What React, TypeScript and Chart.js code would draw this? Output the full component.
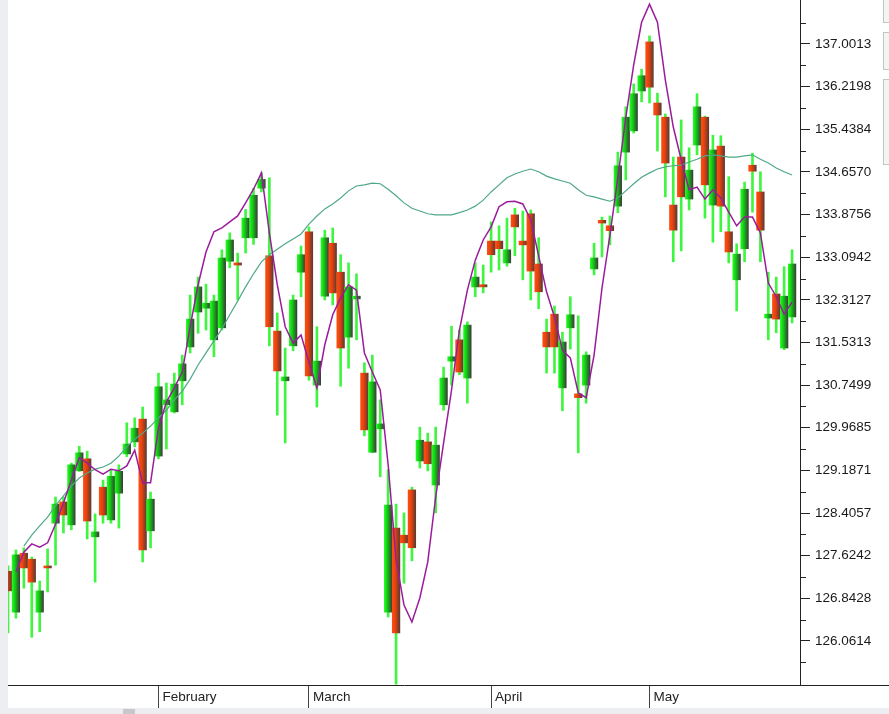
import React, { useEffect, useRef } from 'react';
import { Chart, registerables } from 'chart.js';

Chart.register(...registerables);

// ---- data ----
const openV = [127.34,126.59,127.67,127.56,126.59,127.42,128.22,128.61,128.19,129.18,129.40,127.97,128.88,128.28,128.77,129.49,129.71,130.13,128.08,129.45,130.39,130.26,130.83,131.45,132.09,132.16,131.58,131.80,133.02,132.99,133.45,133.45,134.36,133.12,131.74,130.83,131.47,132.82,133.56,130.75,132.38,133.35,132.82,131.63,132.33,130.97,129.52,129.95,126.59,128.13,128.00,128.83,129.36,129.71,128.92,130.39,131.19,131.58,130.88,132.55,132.59,133.39,133.39,132.99,133.87,133.39,133.89,132.97,131.72,132.05,130.70,131.80,130.59,130.75,132.88,133.77,133.67,134.03,135.02,135.41,136.14,137.04,135.92,135.66,134.05,134.93,134.16,135.15,135.66,134.05,135.13,133.56,132.68,133.25,134.78,134.29,131.98,132.42,131.43,132.00];
const highV = [127.44,127.73,127.77,127.60,127.16,127.75,128.70,128.70,129.32,129.63,129.54,128.39,129.01,129.21,129.29,130.06,130.15,130.35,128.79,130.97,130.79,130.97,131.30,132.40,132.73,132.60,132.40,133.23,133.54,133.17,133.97,134.36,134.64,134.55,132.07,131.43,132.40,133.30,133.65,131.82,133.59,133.63,133.14,132.99,132.79,131.16,131.30,130.48,129.20,128.57,128.41,128.88,129.98,129.87,129.98,131.08,131.83,131.76,131.91,132.99,132.95,133.74,133.67,133.81,133.99,133.94,133.96,133.45,131.96,132.20,131.72,132.37,132.02,131.36,133.35,133.83,133.85,135.02,135.85,136.27,136.54,137.15,136.10,135.72,134.93,135.61,135.10,136.09,135.68,135.33,135.32,134.57,133.34,134.47,135.00,134.66,132.82,132.73,132.92,133.23];
const lowV = [126.21,126.48,127.03,126.13,126.23,126.96,127.45,128.04,128.10,129.17,127.93,127.14,128.22,128.22,128.13,129.44,129.62,127.51,127.77,129.40,129.58,130.24,130.39,131.34,131.70,131.76,131.27,131.76,132.90,132.31,133.17,133.33,134.29,131.47,130.20,129.69,131.38,132.37,130.84,130.35,132.31,132.22,130.73,131.06,131.58,129.82,129.51,129.07,126.50,125.27,127.12,127.53,129.23,129.18,128.41,130.29,130.75,130.94,130.42,132.37,132.44,132.82,132.86,132.93,133.12,132.68,132.31,132.15,130.97,130.97,130.28,131.41,129.51,130.42,132.77,133.10,133.32,133.91,134.51,135.37,135.94,135.92,135.04,134.20,133.01,133.21,133.96,134.97,133.81,133.37,133.56,132.99,132.11,133.01,133.92,133.01,131.58,131.71,131.40,131.89];
const closeV = [126.98,127.64,127.40,127.14,126.98,127.40,128.57,128.37,129.29,129.51,128.26,128.06,128.37,129.08,129.17,129.67,129.96,127.73,128.66,130.72,130.48,130.77,131.14,131.96,132.55,132.25,132.29,133.08,133.41,132.95,133.81,134.23,134.52,131.82,131.01,130.90,132.31,133.14,130.92,131.19,133.45,132.44,131.43,132.55,132.38,129.93,130.81,130.04,128.55,126.21,127.86,127.77,129.74,129.31,129.65,130.88,131.27,130.99,131.85,132.73,132.55,133.14,133.25,133.23,133.65,133.32,132.84,132.46,131.45,131.45,131.54,132.04,130.52,131.30,133.08,133.72,133.58,134.77,135.66,136.09,136.42,136.21,135.70,134.82,133.59,134.20,134.69,135.85,134.42,135.06,134.03,133.19,133.15,134.34,134.67,133.59,132.05,131.96,132.38,132.97];
const fastLine = [null,127.33,127.69,127.84,127.78,127.86,128.20,128.59,129.01,129.42,129.32,129.20,129.12,129.21,129.18,129.27,129.56,128.96,128.96,129.96,130.44,130.70,130.99,131.82,132.59,133.19,133.56,133.63,133.74,133.85,134.09,134.34,134.64,133.54,132.59,131.82,131.52,131.67,131.17,130.70,131.49,132.04,132.35,132.59,132.49,131.34,130.99,130.66,129.29,127.55,126.72,126.41,126.85,127.51,128.70,129.69,130.66,131.76,132.49,133.04,133.41,133.65,134.02,134.11,134.12,134.07,133.78,133.12,132.46,132.00,131.39,131.25,130.61,130.52,131.30,132.53,133.50,134.55,135.65,136.62,137.40,137.73,137.40,136.34,135.48,134.88,134.33,134.38,134.16,134.33,134.18,133.92,133.67,133.83,133.83,133.54,132.62,132.37,132.05,132.27];
const slowLine = [null,null,127.80,128.00,128.17,128.33,128.54,128.72,128.90,129.05,129.14,129.21,129.25,129.32,129.45,129.62,129.76,129.87,130.00,130.15,130.29,130.48,130.64,130.86,131.12,131.34,131.56,131.78,132.04,132.29,132.55,132.79,133.01,133.14,133.24,133.34,133.43,133.52,133.70,133.85,133.98,134.07,134.18,134.31,134.40,134.42,134.45,134.44,134.34,134.22,134.09,133.99,133.94,133.89,133.87,133.87,133.87,133.91,133.96,134.03,134.14,134.29,134.42,134.55,134.62,134.67,134.71,134.66,134.58,134.53,134.49,134.45,134.33,134.23,134.20,134.16,134.12,134.18,134.31,134.44,134.56,134.64,134.71,134.75,134.77,134.78,134.84,134.89,134.95,134.97,134.95,134.93,134.93,134.95,134.97,134.89,134.82,134.73,134.66,134.60];
const monthTickIndex = [19, 38, 61, 81];
const monthLabels = ['February', 'March', 'April', 'May'];
const priceTickLabels = ['137.0013','136.2198','135.4384','134.6570','133.8756','133.0942','132.3127','131.5313','130.7499','129.9685','129.1871','128.4057','127.6242','126.8428','126.0614'];
const priceMin = 125.2549;
const priceMax = 137.8076;
const indexMax = 100;

const majorTicks = priceTickLabels.map((s) => parseFloat(s));
const minorTicks: number[] = [];
for (let i = 0; i < majorTicks.length - 1; i++) minorTicks.push((majorTicks[i] + majorTicks[i + 1]) / 2);
{
  const step = majorTicks[0] - majorTicks[1];
  minorTicks.push(majorTicks[0] + step / 2);
  minorTicks.push(majorTicks[majorTicks.length - 1] - step / 2);
}

const FONT = "'Liberation Sans', Arial, sans-serif";

const axisExtras = {
  id: 'axisExtras',
  afterDraw(chart: any) {
    const { ctx, chartArea, scales } = chart;
    const y = scales.y;
    ctx.save();
    ctx.strokeStyle = '#222';
    ctx.lineWidth = 1;
    minorTicks.forEach((v) => {
      const py = Math.round(y.getPixelForValue(v)) + 0.5;
      if (py < chartArea.top || py > chartArea.bottom) return;
      ctx.beginPath();
      ctx.moveTo(chartArea.right, py);
      ctx.lineTo(chartArea.right + 6, py);
      ctx.stroke();
    });
    const by = Math.round(chartArea.bottom) + 0.5;
    ctx.beginPath();
    ctx.moveTo(chartArea.right, by);
    ctx.lineTo(chart.width, by);
    ctx.stroke();
    ctx.restore();
  },
};

function bodyFill(c: any) {
  const i = c.dataIndex;
  const up = closeV[i] >= openV[i];
  const flat = up ? '#1fe01f' : '#ff4a12';
  if (c.type !== 'data') return flat;
  const chart = c.chart;
  const xs = chart.scales && chart.scales.x;
  if (!xs) return flat;
  const px = xs.getPixelForValue(i);
  if (!Number.isFinite(px)) return flat;
  const g = chart.ctx.createLinearGradient(px - 4, 0, px + 4, 0);
  if (up) {
    g.addColorStop(0, '#22ff22');
    g.addColorStop(0.4, '#14c814');
    g.addColorStop(1, '#363a36');
  } else {
    g.addColorStop(0, '#ff4f10');
    g.addColorStop(0.4, '#e8420f');
    g.addColorStop(1, '#573a30');
  }
  return g;
}

export default function App() {
  const ref = useRef<HTMLCanvasElement | null>(null);

  useEffect(() => {
    if (!ref.current) return;
    Chart.defaults.font.family = FONT;
    const idx = openV.map((_, i) => i);
    const chart = new Chart(ref.current, {
      type: 'bar',
      data: {
        datasets: [
          {
            type: 'line',
            label: 'fast',
            data: idx.map((i) => ({ x: i, y: fastLine[i] })),
            borderColor: '#9a1c9c',
            borderWidth: 1.5,
            pointRadius: 0,
            tension: 0,
            spanGaps: false,
            order: 0,
          } as any,
          {
            type: 'line',
            label: 'slow',
            data: idx.map((i) => ({ x: i, y: slowLine[i] })),
            borderColor: '#4fa886',
            borderWidth: 1.2,
            pointRadius: 0,
            tension: 0,
            spanGaps: false,
            order: 0,
          } as any,
          {
            type: 'bar',
            label: 'body',
            data: idx.map((i) => ({ x: i, y: [openV[i], closeV[i]] })),
            backgroundColor: bodyFill,
            borderWidth: 0,
            barThickness: 7.6,
            minBarLength: 2,
            grouped: false,
            order: 1,
          } as any,
          {
            type: 'bar',
            label: 'wick',
            data: idx.map((i) => ({ x: i, y: [lowV[i], highV[i]] })),
            backgroundColor: '#40f540',
            borderWidth: 0,
            barThickness: 2,
            grouped: false,
            order: 2,
          } as any,
        ],
      },
      options: {
        responsive: false,
        animation: false,
        devicePixelRatio: 1,
        layout: { padding: 0 },
        plugins: { legend: { display: false }, tooltip: { enabled: false } },
        scales: {
          x: {
            type: 'linear',
            min: 0,
            max: indexMax,
            offset: false,
            afterBuildTicks: (s: any) => {
              s.ticks = monthTickIndex.map((v) => ({ value: v }));
            },
            afterFit: (s: any) => {
              s.height = 23;
              s.paddingLeft = 0;
              s.paddingRight = 0;
            },
            grid: { display: true, offset: false, drawOnChartArea: false, drawTicks: true, tickLength: 23, color: '#444', lineWidth: 1 },
            border: { display: true, color: '#222', width: 1 },
            ticks: {
              autoSkip: false,
              maxRotation: 0,
              align: 'start',
              labelOffset: 4,
              padding: -19,
              color: '#222',
              font: { size: 13.5, family: FONT },
              callback: (v: any) => {
                const k = monthTickIndex.indexOf(Number(v));
                return k >= 0 ? monthLabels[k] : '';
              },
            },
          },
          y: {
            type: 'linear',
            position: 'right',
            min: priceMin,
            max: priceMax,
            afterBuildTicks: (s: any) => {
              s.ticks = majorTicks.map((v) => ({ value: v }));
            },
            afterFit: (s: any) => {
              s.width = 89;
              s.paddingTop = 0;
              s.paddingBottom = 0;
            },
            grid: { display: true, drawOnChartArea: false, drawTicks: true, tickLength: 10, color: '#222', lineWidth: 1 },
            border: { display: true, color: '#222', width: 1 },
            ticks: {
              autoSkip: false,
              padding: 5,
              color: '#1a1a1a',
              font: { size: 13.5, family: FONT },
              callback: (_v: any, i: number) => priceTickLabels[i],
            },
          },
        },
      },
      plugins: [axisExtras],
    });
    return () => chart.destroy();
  }, []);

  return (
    <div style={{ position: 'fixed', left: 0, top: 0, width: 889, height: 714, background: '#eceef1', overflow: 'hidden' }}>
      <div style={{ position: 'absolute', left: 8, top: 0, width: 881, height: 708, background: '#ffffff' }}>
        <canvas ref={ref} width={881} height={708} style={{ display: 'block', width: 881, height: 708 }} />
      </div>
      <div style={{ position: 'absolute', left: 123, top: 709, width: 12, height: 5, background: '#c8c8c8' }} />
      <div style={{ position: 'absolute', left: 883, top: -1, width: 10, height: 22, border: '1px solid #c4c4c4', background: '#f4f4f4' }} />
      <div style={{ position: 'absolute', left: 883, top: 32, width: 10, height: 36, border: '1px solid #c4c4c4', background: '#f4f4f4' }} />
      <div style={{ position: 'absolute', left: 883, top: 79, width: 10, height: 84, border: '1px solid #c4c4c4', background: '#f4f4f4' }} />
    </div>
  );
}
